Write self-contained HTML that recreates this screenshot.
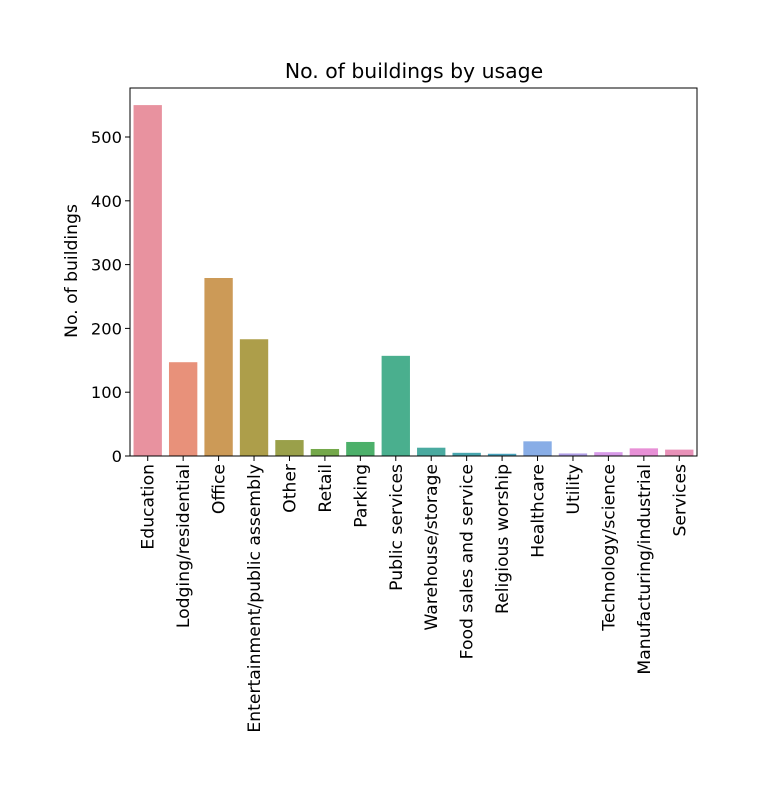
<!DOCTYPE html>
<html><head><meta charset="utf-8"><style>
body{margin:0;background:#fff;}
svg text{font-family:"DejaVu Sans","Liberation Sans",sans-serif;fill:#000;}
</style></head><body>
<svg id="chart" width="760" height="793">
<text x="414" y="78" font-size="20.4" text-anchor="middle">No. of buildings by usage</text>
<text transform="translate(77,271) rotate(-90)" font-size="17.2" text-anchor="middle">No. of buildings</text>
<g id="bars"></g><g id="yticks"></g><g id="xticks"></g>
<rect x="130" y="88" width="567" height="368" fill="none" stroke="#000" stroke-width="1"/>
</svg>
<script>
const categories=["Education","Lodging/residential","Office","Entertainment/public assembly","Other","Retail","Parking","Public services","Warehouse/storage","Food sales and service","Religious worship","Healthcare","Utility","Technology/science","Manufacturing/industrial","Services"];
const values=[550,147,279,183,25,11,22,157,13,5,3.5,23,4,6,12,10];
const colors=["#e8929f","#e8917a","#cc9a57","#ad9e4a","#9aa04a","#74a84a","#4cb06a","#4aaf8e","#4aaaa0","#48a6ae","#4aa3bd","#88ade6","#b1a0e8","#d79ae8","#e790d6","#e891b8"];
const yTicks=[0,100,200,300,400,500];
const NS="http://www.w3.org/2000/svg";
const L=130,R=697,B=456,ppu=0.638;
const y=v=>B-v*ppu;
const step=(R-L)/categories.length;
const xc=i=>L+step*(i+0.5);
const bars=document.getElementById('bars'),yt=document.getElementById('yticks'),xt=document.getElementById('xticks');
categories.forEach((c,i)=>{
 const r=document.createElementNS(NS,'rect');
 r.setAttribute('x',xc(i)-step*0.4);r.setAttribute('width',step*0.8);
 r.setAttribute('y',y(values[i]));r.setAttribute('height',B-y(values[i]));
 r.setAttribute('fill',colors[i]);
 
 
 bars.appendChild(r);
 const t=document.createElementNS(NS,'line');
 t.setAttribute('x1',xc(i));t.setAttribute('x2',xc(i));t.setAttribute('y1',B);t.setAttribute('y2',B+5);t.setAttribute('stroke','#000');
 
 
 xt.appendChild(t);
 const tx=document.createElementNS(NS,'text');
 tx.setAttribute('transform','translate('+(xc(i)+6)+','+(B+8)+') rotate(-90)');
 tx.setAttribute('text-anchor','end');tx.setAttribute('font-size','17.2');
 tx.textContent=c;
 
 
 xt.appendChild(tx);
});
yTicks.forEach(v=>{
 const t=document.createElementNS(NS,'line');
 t.setAttribute('x1',L-5);t.setAttribute('x2',L);t.setAttribute('y1',y(v));t.setAttribute('y2',y(v));t.setAttribute('stroke','#000');
 
 
 yt.appendChild(t);
 const tx=document.createElementNS(NS,'text');
 tx.setAttribute('x',L-8);tx.setAttribute('y',y(v)+6);tx.setAttribute('text-anchor','end');tx.setAttribute('font-size','16.3');
 tx.textContent=v;
 
 
 yt.appendChild(tx);
});
</script>
</body></html>
